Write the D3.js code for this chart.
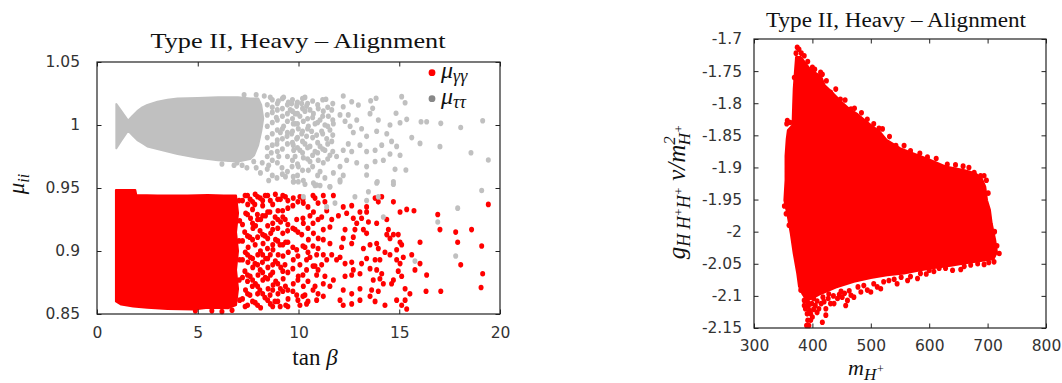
<!DOCTYPE html>
<html>
<head>
<meta charset="utf-8">
<script src="https://cdn.jsdelivr.net/npm/d3@7"></script>
<style>
  body { margin: 0; background: #fff; }
  svg { display: block; }
  .tick text { font-family: "DejaVu Sans", sans-serif; font-size: 15.5px; fill: #333; }
  .tick line { stroke: #222; }
  .math { font-family: "Liberation Serif", "DejaVu Serif", serif; fill: #111; }
</style>
</head>
<body>
<svg id="chart" width="1062" height="383"></svg>
<script>
// ---------- Left panel: mu_ii versus tan(beta) ----------
const leftXDomain = [0, 20];
const leftYDomain = [0.85, 1.05];
const leftXTicks = [0, 5, 10, 15, 20];
const leftYTicks = [0.85, 0.9, 0.95, 1, 1.05];

// Outline of the densely filled mu_tautau band (tanb, mu)
const tautauCore = [
  [0.96,1.0167],[1.2,1.0113],[1.54,1.0035],[1.75,1.007],[2.0,1.011],[2.25,1.014],[2.5,1.016],
  [3.0,1.0185],[3.5,1.020],[4.0,1.021],[5.0,1.0215],[6.0,1.022],[7.0,1.022],[7.6,1.021],
  [8.0,1.021],[8.15,1.016],[8.25,1.005],[8.15,0.995],[8.0,0.984],[7.8,0.976],
  [7.6,0.973],[7.0,0.971],[6.0,0.972],[5.0,0.974],[4.0,0.977],[3.5,0.979],[3.0,0.981],
  [2.5,0.983],[2.25,0.9855],[2.0,0.988],[1.75,0.992],[1.54,0.9955],[1.2,0.9875],[0.96,0.9815]
];
// Individual mu_tautau points outside the dense band
const tautauPoints = [
  [7.44,0.966],[8.11,0.962],[8.52,0.956],[8.93,0.958],[9.35,0.959],[9.76,0.955],[8.52,0.968],
  [7.78,0.971],[6.95,0.970],[6.53,0.973],[9.18,0.966],[9.68,0.967],[9.93,1.017],[9.26,1.022],
  [8.60,1.022],[9.59,1.012],[9.84,1.001],[9.43,0.991],[9.76,0.980],[9.02,0.975],[9.26,0.999],
  [8.93,0.985],[8.7,1.014],[8.9,1.006],[9.1,0.994],[8.65,0.978],[9.5,1.018],[9.0,1.019],
  [8.45,1.016],[8.45,1.008],[8.45,0.999],[8.45,0.990],[8.45,0.982],[8.45,0.975],[8.45,0.965],
  [8.7,1.020],[8.7,1.010],[8.7,1.002],[8.7,0.993],[8.7,0.984],[8.7,0.972],[8.7,0.960],
  [8.95,1.017],[8.95,1.012],[8.95,1.004],[8.95,0.996],[8.95,0.988],[8.95,0.979],[8.95,0.970],
  [9.2,1.021],[9.2,1.013],[9.2,1.007],[9.2,0.997],[9.2,0.989],[9.2,0.981],[9.2,0.961],
  [9.45,1.016],[9.45,1.009],[9.45,1.003],[9.45,0.994],[9.45,0.985],[9.45,0.975],[9.45,0.963],
  [9.7,1.020],[9.7,1.011],[9.7,1.005],[9.7,0.995],[9.7,0.986],[9.7,0.972],
  [9.95,1.018],[9.95,1.009],[9.95,1.001],[9.95,0.990],[9.95,0.982],[9.95,0.969],[9.95,0.960],
  [10.2,1.021],[10.2,1.013],[10.2,0.995],[10.2,0.987],[10.2,0.978],[10.2,0.964],
  [10.45,1.017],[10.45,1.005],[10.45,0.997],[10.45,0.982],[10.45,0.973],
  [10.7,1.019],[10.7,1.006],[10.7,0.990],[10.7,0.976],[10.7,0.967],
  [10.95,1.016],[10.95,1.002],[10.95,0.986],[10.95,0.978],[10.95,0.960],
  [11.2,1.020],[11.2,1.007],[11.2,0.993],[11.2,0.981],
  [11.45,1.014],[11.45,0.999],[11.45,0.985],[11.45,0.973],
  [11.7,1.017],[11.7,1.004],[11.7,0.992],[11.7,0.979],
  [9.66,1.017],[9.91,1.015],[10.16,1.017],[10.40,1.015],[10.57,1.012],[9.83,1.009],[10.07,1.007],
  [10.32,1.011],[10.74,1.009],[10.98,1.013],[11.23,1.011],[11.48,1.007],[11.65,1.012],
  [9.74,1.001],[9.99,0.997],[10.24,1.003],[10.49,0.999],[10.82,1.001],[11.07,1.004],[11.31,1.000],
  [11.56,0.996],[11.73,1.001],[9.66,0.993],[9.91,0.989],[10.16,0.993],[10.40,0.991],[10.65,0.995],
  [10.90,0.992],[11.15,0.995],[11.40,0.989],[11.65,0.987],[9.74,0.984],[10.07,0.980],[10.32,0.985],
  [10.57,0.983],[10.82,0.979],[11.07,0.983],[11.31,0.980],[11.56,0.976],[9.83,0.975],[10.24,0.974],
  [10.57,0.971],[10.98,0.972],[11.23,0.970],[9.99,0.967],[10.49,0.964],[11.07,0.963],[9.74,0.959],
  [10.24,0.956],[10.74,0.954],[11.31,0.958],[12.06,1.008],[12.31,1.003],[12.56,0.999],[12.47,1.008],
  [12.89,1.004],[12.72,0.994],[13.13,0.997],[13.38,0.991],[13.05,0.984],[12.47,0.985],[12.22,0.980],
  [12.64,0.979],[13.38,0.979],[13.80,0.980],[13.55,1.009],[13.96,1.004],[13.88,0.995],[14.38,0.993],
  [14.62,0.987],[14.13,0.984],[14.54,0.977],[14.87,0.983],[15.04,0.976],[14.21,0.972],[13.38,0.967],
  [12.89,0.970],[12.39,0.972],[11.89,0.975],[12.06,0.967],[11.73,0.962],[12.22,0.960],
  [10.32,1.0219],[11.36,1.0204],[12.22,1.023],[12.22,1.0145],[12.64,1.0185],[12.97,1.0159],
  [13.58,1.0193],[13.85,1.0212],[13.68,1.0132],[15.12,1.0225],[15.29,1.0177],[14.84,1.0093],
  [15.37,1.0045],[15.04,1.0018],[14.54,1.000],[16.08,1.0026],[16.36,1.0026],[17.06,1.0013],
  [18.05,0.998],[19.14,1.0034],[16.03,0.9854],[15.62,0.990],[17.02,0.9828],[18.56,0.978],
  [19.42,0.9722],[15.33,0.9643],[14.79,0.9648],[13.80,0.971],[13.38,0.9603],[13.91,0.955],
  [14.71,0.955],[12.06,0.9563],[11.56,0.951],[10.90,0.9524],[10.24,0.943],[11.40,0.935],
  [11.81,0.938],[12.80,0.943],[13.47,0.947],[13.38,0.940],[13.96,0.943],[14.21,0.927],
  [15.78,0.892],[16.91,0.923],[17.90,0.934],[17.80,0.896],[19.09,0.948],[9.74,0.955],
  [9.99,0.955],[10.32,0.953],[10.82,0.952],[11.07,0.952],[11.56,0.951],[12.06,0.955],
  [13.88,0.954],[14.71,0.953],[6.2,0.969],[6.8,0.968],[7.2,0.968],[7.9,0.966],[8.2,0.970],
  [7.3,1.024],[7.9,1.024],[8.3,1.023]
];

// Outline of the densely filled mu_gammagamma band (tanb, mu)
const gamgamCore = [
  [0.94,0.9485],[1.9,0.9485],[1.95,0.9445],[3.0,0.9440],[4.5,0.9440],[5.5,0.9445],[6.3,0.9440],[6.9,0.9440],
  [7.0,0.930],[6.9,0.915],[7.0,0.900],[6.9,0.885],[7.0,0.870],[6.9,0.857],
  [6.5,0.8545],[5.5,0.855],[4.8,0.8535],[3.5,0.854],[2.5,0.855],[1.8,0.856],[1.2,0.8575],[0.94,0.860]
];
// Individual mu_gammagamma points outside the dense band
const gamgamPoints = [
  [4.88,0.8525],[6.7,0.853],[6.2,0.852],[5.7,0.8525],[7.05,0.940],[7.08,0.924],[7.05,0.908],
  [7.08,0.893],[7.06,0.877],[7.08,0.861],
  [7.22,0.940],[7.22,0.921],[7.22,0.908],[7.22,0.893],[7.22,0.879],[7.22,0.862],
  [7.47,0.944],[7.47,0.929],[7.47,0.912],[7.47,0.897],[7.47,0.881],[7.47,0.866],[7.47,0.857],
  [7.72,0.939],[7.72,0.922],[7.72,0.909],[7.72,0.894],[7.72,0.877],[7.72,0.860],
  [7.97,0.943],[7.97,0.925],[7.97,0.911],[7.97,0.889],[7.97,0.872],[7.97,0.857],
  [8.22,0.940],[8.22,0.928],[8.22,0.913],[8.22,0.897],[8.22,0.883],[8.22,0.866],
  [8.47,0.944],[8.47,0.931],[8.47,0.910],[8.47,0.894],[8.47,0.878],[8.47,0.861],
  [8.72,0.937],[8.72,0.917],[8.72,0.905],[8.72,0.889],[8.72,0.869],[8.72,0.856],
  [8.97,0.941],[8.97,0.925],[8.97,0.908],[8.97,0.890],[8.97,0.874],[8.97,0.860],
  [9.22,0.944],[9.22,0.927],[9.22,0.905],[9.22,0.884],[9.22,0.868],
  [9.47,0.940],[9.47,0.921],[9.47,0.907],[9.47,0.883],[9.47,0.869],[9.47,0.856],
  [9.72,0.936],[9.72,0.918],[9.72,0.903],[9.72,0.886],[9.72,0.868],
  [9.97,0.939],[9.97,0.915],[9.97,0.896],[9.97,0.877],[9.97,0.861],
  [10.22,0.941],[10.22,0.926],[10.22,0.904],[10.22,0.881],[10.22,0.864],
  [10.47,0.935],[10.47,0.918],[10.47,0.899],[10.47,0.876],[10.47,0.860],
  [10.72,0.944],[10.72,0.922],[10.72,0.904],[10.72,0.888],[10.72,0.869],
  [10.97,0.938],[10.97,0.925],[10.97,0.902],[10.97,0.885],[10.97,0.866],
  [7.35,0.944],[7.38,0.930],[7.33,0.915],[7.36,0.899],[7.34,0.884],[7.37,0.869],[7.35,0.856],
  [7.60,0.941],[7.62,0.926],[7.58,0.911],[7.61,0.895],[7.60,0.880],[7.59,0.865],
  [7.85,0.945],[7.83,0.937],[7.87,0.920],[7.85,0.905],[7.84,0.890],[7.86,0.874],[7.85,0.859],
  [8.10,0.942],[8.12,0.925],[8.09,0.916],[8.11,0.900],[8.10,0.885],[8.08,0.869],[8.12,0.855],
  [8.35,0.944],[8.36,0.928],[8.34,0.912],[8.37,0.894],[8.35,0.879],[8.33,0.863],
  [8.60,0.940],[8.58,0.931],[8.62,0.914],[8.60,0.897],[8.61,0.881],[8.59,0.865],[8.60,0.858],
  [8.85,0.945],[8.84,0.927],[8.86,0.909],[8.85,0.892],[8.87,0.876],[8.83,0.860],
  [9.10,0.941],[9.11,0.923],[9.08,0.905],[9.12,0.887],[9.10,0.870],[9.09,0.856],
  [9.35,0.943],[9.34,0.925],[9.36,0.907],[9.33,0.889],[9.35,0.872],[9.37,0.857],
  [7.48,0.937],[7.72,0.933],[7.96,0.929],[8.22,0.936],[8.47,0.920],[8.72,0.922],[8.98,0.932],[9.22,0.914],[9.47,0.934],
  [7.50,0.903],[7.74,0.918],[7.98,0.897],[8.24,0.906],[8.48,0.887],[8.73,0.901],[8.97,0.918],[9.23,0.896],[9.46,0.916],
  [7.47,0.876],[7.73,0.887],[7.97,0.866],[8.23,0.877],[8.49,0.870],[8.72,0.883],[8.98,0.866],[9.24,0.878],[9.48,0.862],
  [7.49,0.891],[7.71,0.872],[7.99,0.881],[8.21,0.891],[8.46,0.902],[8.74,0.873],[8.99,0.897],[9.21,0.932],[9.49,0.899],
  [9.74,0.942],[10.07,0.943],[10.24,0.938],[10.82,0.942],[11.23,0.944],[11.31,0.939],[11.73,0.944],
  [11.40,0.932],[11.15,0.927],[10.74,0.931],[10.57,0.928],[9.91,0.925],[10.24,0.922],[9.83,0.917],
  [10.16,0.913],[10.49,0.909],[10.32,0.903],[9.91,0.901],[9.74,0.893],[10.07,0.889],[10.40,0.885],
  [9.99,0.880],[9.74,0.874],[10.24,0.872],[9.91,0.865],[10.32,0.865],[10.07,0.857],[10.40,0.858],
  [10.90,0.861],[11.23,0.864],[10.82,0.872],[11.23,0.874],[11.56,0.872],[11.73,0.877],[11.31,0.880],
  [10.90,0.881],[10.82,0.888],[11.15,0.889],[11.40,0.893],[11.65,0.897],[11.23,0.897],[10.90,0.897],
  [10.57,0.895],[10.40,0.893],[11.56,0.906],[11.23,0.909],[10.98,0.910],[10.74,0.914],[11.23,0.917],
  [11.56,0.919],[11.65,0.925],[11.98,0.928],[12.22,0.935],[12.64,0.936],[12.39,0.930],[12.72,0.926],
  [13.05,0.931],[13.38,0.931],[13.47,0.923],[13.22,0.917],[13.38,0.914],[12.80,0.917],[12.31,0.917],
  [12.72,0.911],[12.22,0.910],[12.64,0.906],[12.14,0.903],[12.06,0.895],[11.89,0.893],[12.31,0.890],
  [12.64,0.891],[12.72,0.885],[12.31,0.880],[12.64,0.881],[13.05,0.882],[13.13,0.890],[13.22,0.902],
  [13.55,0.886],[13.88,0.885],[14.13,0.882],[14.04,0.878],[13.71,0.877],[13.63,0.869],[13.96,0.868],
  [14.21,0.874],[13.05,0.870],[12.64,0.866],[12.22,0.869],[12.06,0.861],[12.22,0.857],[12.64,0.858],
  [13.05,0.861],[13.55,0.864],[13.80,0.860],[14.29,0.857],[13.80,0.942],[13.96,0.939],[14.13,0.943],
  [13.88,0.922],[14.38,0.925],[14.46,0.917],[14.54,0.910],[14.38,0.913],[13.88,0.906],[13.96,0.902],
  [14.29,0.899],[14.54,0.897],[14.71,0.913],[14.95,0.913],[15.04,0.907],[15.12,0.905],[14.87,0.901],
  [14.87,0.893],[15.20,0.895],[15.04,0.890],[14.95,0.884],[15.12,0.880],[14.71,0.877],[14.62,0.874],
  [15.29,0.870],[14.87,0.861],[15.29,0.861],[15.12,0.857],[15.37,0.854],[15.53,0.866],[15.62,0.897],
  [15.78,0.885],[16.03,0.890],[16.36,0.881],[16.03,0.907],[15.04,0.931],[14.71,0.939],[15.37,0.933],
  [15.73,0.932],[16.33,0.868],[17.06,0.868],[16.91,0.929],[17.02,0.917],[17.80,0.915],[17.90,0.907],
  [18.05,0.889],[18.59,0.917],[19.09,0.904],[19.14,0.882],[19.06,0.871],[19.42,0.937],[13.38,0.935],
  [13.13,0.926],[12.89,0.922],[13.55,0.905],[14.04,0.893],[13.38,0.894],[13.80,0.893]
];

// ---------- Right panel: g_{HH+H+} v / m_{H+}^2 versus m_{H+} ----------
const rightXDomain = [300, 800];
const rightYDomain = [-2.15, -1.7];
const rightXTicks = [300, 400, 500, 600, 700, 800];
const rightYTicks = [-2.15, -2.1, -2.05, -2, -1.95, -1.9, -1.85, -1.8, -1.75, -1.7];
const rightYTickLabels = ["-2.15", "-2.1", "-2.05", "-2", "-1.95", "-1.9", "-1.85", "-1.8", "-1.75", "-1.7"];

// Outline of the filled region of allowed points (mH+, coupling)
const couplingCore = [
  [372,-1.728],[380,-1.728],[397,-1.748],[415,-1.758],[421,-1.772],[436,-1.785],[450,-1.798],
  [462,-1.808],[476,-1.816],[493,-1.829],[515,-1.844],[527,-1.857],[550,-1.870],[573,-1.878],
  [601,-1.888],[630,-1.899],[659,-1.904],[679,-1.909],[690,-1.917],[696,-1.930],[699,-1.951],
  [704,-1.966],[707,-1.987],[713,-2.013],[716,-2.032],[710,-2.043],[694,-2.045],[665,-2.049],
  [637,-2.053],[614,-2.056],[585,-2.060],[557,-2.065],[528,-2.068],[500,-2.072],[471,-2.078],
  [440,-2.087],[414,-2.097],[400,-2.104],[390,-2.107],[383,-2.097],[377,-2.085],[374,-2.065],[368,-2.034],
  [363,-2.003],[358,-1.977],[352,-1.951],[354,-1.920],[354,-1.882],[356,-1.856],[358,-1.842],
  [366,-1.834],[367,-1.804],[368,-1.778],[370,-1.752]
];
// Individual points along the edge of the allowed region
const couplingPoints = [
  [394,-2.146],[397,-2.138],[391,-2.128],[423,-2.130],[417,-2.141],[411,-2.120],[431,-2.112],
  [443,-2.104],[457,-2.115],[460,-2.107],[471,-2.102],[483,-2.094],[500,-2.094],[517,-2.089],
  [531,-2.076],[545,-2.081],[563,-2.076],[580,-2.073],[585,-2.065],[600,-2.060],[617,-2.057],
  [628,-2.057],[640,-2.060],[654,-2.059],[671,-2.052],[694,-2.051],[711,-2.047],[720,-2.034],
  [386,-2.107],[380,-2.091],[388,-2.120],[397,-2.128],[405,-2.115],[423,-2.120],[437,-2.112],
  [451,-2.102],[466,-2.099],[494,-2.091],[511,-2.086],[392,-2.110],[402,-2.104],[418,-2.102],
  [428,-2.097],[449,-2.093],[478,-2.086],[505,-2.081],[540,-2.074],[568,-2.070],[595,-2.066],
  [393,-2.116],[399,-2.112],[408,-2.108],[415,-2.112],[395,-2.123],[402,-2.121],[408,-2.126],
  [392,-2.138],[400,-2.133],[420,-2.109],[427,-2.104],[436,-2.100],[446,-2.098],[455,-2.096],
  [463,-2.092],[488,-2.084],[522,-2.078],[552,-2.071],[608,-2.062],[660,-2.054],[683,-2.050],
  [702,-2.048],[390,-2.146],[386,-2.115],
  [374,-1.713],[377,-1.716],[386,-1.726],[400,-1.744],[414,-1.752],[417,-1.755],[406,-1.762],
  [431,-1.783],[448,-1.794],[466,-1.809],[494,-1.825],[514,-1.839],[520,-1.840],[543,-1.866],
  [548,-1.877],[568,-1.874],[597,-1.884],[631,-1.895],[668,-1.900],[677,-1.908],[688,-1.913],
  [357,-1.827],[356,-1.832],[352,-1.960],[355,-1.972],[360,-1.990],[698,-1.920],[701,-1.940],
  [712,-2.000],[716,-2.022],[372,-1.722],[381,-1.722],[392,-1.735],[404,-1.747],[424,-1.765],
  [440,-1.778],[456,-1.795],[472,-1.808],[484,-1.815],[505,-1.832],[532,-1.852],[557,-1.866],
  [584,-1.878],[612,-1.886],[645,-1.896],[658,-1.898],[694,-1.913],[362,-1.830],[369,-1.760]
];

const svg = d3.select("#chart");

// Boxed frame with inward ticks on all four sides
function frame(g, x, y, xTicks, yTicks, yFormat, yPad, xPad) {
  const [x0, x1] = x.range(), [y1, y0] = y.range();
  const tick = 4.5;
  g.append("g").attr("transform", `translate(0,${y1})`)
    .call(d3.axisBottom(x).tickValues(xTicks).tickSize(-tick).tickSizeOuter(0).tickPadding(xPad).tickFormat(d3.format("d")))
    .call(s => s.select(".domain").remove());
  g.append("g").attr("transform", `translate(0,${y0})`)
    .call(d3.axisTop(x).tickValues(xTicks).tickSize(-tick).tickSizeOuter(0).tickFormat(""))
    .call(s => s.select(".domain").remove());
  g.append("g").attr("transform", `translate(${x0},0)`)
    .call(d3.axisLeft(y).tickValues(yTicks).tickSize(-tick).tickSizeOuter(0).tickPadding(yPad).tickFormat(yFormat))
    .call(s => s.select(".domain").remove());
  g.append("g").attr("transform", `translate(${x1},0)`)
    .call(d3.axisRight(y).tickValues(yTicks).tickSize(-tick).tickSizeOuter(0).tickFormat(""))
    .call(s => s.select(".domain").remove());
  g.append("rect").attr("x", x0).attr("y", y0).attr("width", x1 - x0).attr("height", y1 - y0)
    .attr("fill", "none").attr("stroke", "#222").attr("stroke-width", 1.2);
}

function cloud(g, x, y, outline, points, color, r) {
  const line = d3.line().x(d => x(d[0])).y(d => y(d[1])).curve(d3.curveLinearClosed);
  g.append("path").attr("d", line(outline)).attr("fill", color).attr("stroke", color)
    .attr("stroke-width", 2).attr("stroke-linejoin", "round");
  g.append("g").selectAll("ellipse").data(points).join("ellipse")
    .attr("cx", d => x(d[0])).attr("cy", d => y(d[1])).attr("rx", r).attr("ry", r * 1.12).attr("fill", color);
}

const RED = "#ff0000", GREY = "#c0c0c0";

// ----- left panel -----
const xL = d3.scaleLinear().domain(leftXDomain).range([97, 500]);
const yL = d3.scaleLinear().domain(leftYDomain).range([314, 62]);
const gL = svg.append("g");
const plotL = gL.append("g");
cloud(plotL, xL, yL, gamgamCore, gamgamPoints, RED, 2.5);
cloud(plotL, xL, yL, tautauCore, tautauPoints, GREY, 2.5);
frame(gL, xL, yL, leftXTicks, leftYTicks, d => d3.format("")(d), 17, 12.5);

gL.append("text").attr("class", "math").attr("x", 298).attr("y", 48)
  .attr("text-anchor", "middle").attr("font-size", 22)
  .attr("textLength", 295).attr("lengthAdjust", "spacingAndGlyphs")
  .text("Type II, Heavy – Alignment");

const xlabL = gL.append("text").attr("class", "math").attr("x", 315).attr("y", 365)
  .attr("text-anchor", "middle").attr("font-size", 23);
xlabL.append("tspan").text("tan ");
xlabL.append("tspan").attr("font-style", "italic").text("β");

const ylabL = gL.append("text").attr("class", "math")
  .attr("transform", "translate(24,184) rotate(-90)")
  .attr("text-anchor", "middle").attr("font-size", 23).attr("font-style", "italic");
ylabL.append("tspan").text("μ");
ylabL.append("tspan").attr("font-size", 16).attr("dy", 5).text("ii");

// legend
const legend = [
  { sub: "γγ", color: RED },
  { sub: "ττ", color: "#888" }
];
legend.forEach((d, i) => {
  const cy = 72.7 + i * 26;
  gL.append("circle").attr("cx", 432).attr("cy", cy).attr("r", 3.4).attr("fill", d.color);
  const t = gL.append("text").attr("class", "math").attr("x", 441).attr("y", cy + 5.5)
    .attr("font-size", 24).attr("font-style", "italic");
  t.append("tspan").text("μ");
  t.append("tspan").attr("font-size", 18).attr("dy", 4).text(d.sub);
});

// ----- right panel -----
const xR = d3.scaleLinear().domain(rightXDomain).range([754, 1046]);
const yR = d3.scaleLinear().domain(rightYDomain).range([328, 39]);
const gR = svg.append("g");
cloud(gR.append("g"), xR, yR, couplingCore, couplingPoints, RED, 2.5);
frame(gR, xR, yR, rightXTicks, rightYTicks, (d, i) => rightYTickLabels[i], 12, 11.5);

gR.append("text").attr("class", "math").attr("x", 896).attr("y", 27)
  .attr("text-anchor", "middle").attr("font-size", 20)
  .attr("textLength", 260).attr("lengthAdjust", "spacingAndGlyphs")
  .text("Type II, Heavy – Alignment");

const xlabR = gR.append("text").attr("class", "math").attr("x", 848).attr("y", 375)
  .attr("font-size", 22).attr("font-style", "italic");
xlabR.append("tspan").text("m");
xlabR.append("tspan").attr("font-size", 17).attr("dy", 5).text("H");
xlabR.append("tspan").attr("font-size", 12).attr("dy", -7).text("+");

const ylabR = gR.append("text").attr("class", "math")
  .attr("transform", "translate(685,192) rotate(-90)")
  .attr("text-anchor", "middle").attr("font-size", 25).attr("font-style", "italic");
ylabR.append("tspan").text("g");
ylabR.append("tspan").attr("font-size", 18).attr("dy", 5).text("H H");
ylabR.append("tspan").attr("font-size", 12).attr("dy", -7).text("+");
ylabR.append("tspan").attr("font-size", 18).attr("dy", 7).text("H");
ylabR.append("tspan").attr("font-size", 12).attr("dy", -7).text("+");
ylabR.append("tspan").attr("dy", 2).text(" v/m");
ylabR.append("tspan").attr("font-size", 17).attr("dy", -10).text("2");
ylabR.append("tspan").attr("font-size", 17).attr("dx", -9).attr("dy", 15).text("H");
ylabR.append("tspan").attr("font-size", 12).attr("dy", -7).text("+");
</script>
</body>
</html>
